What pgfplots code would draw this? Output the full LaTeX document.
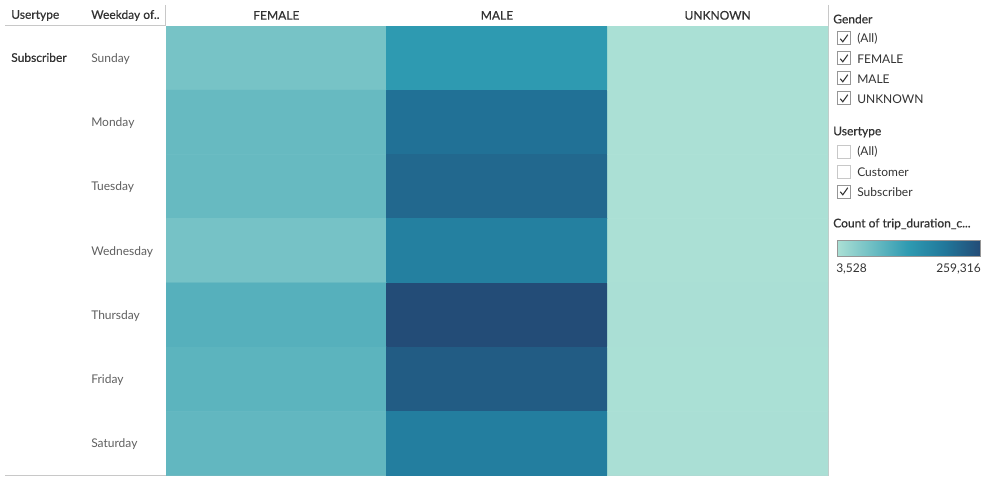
\documentclass[border=0pt]{standalone}
\usepackage{fontspec}
\setmainfont{Lato}
\newfontfamily\medfont[FakeBold=0.6]{Lato}
\usepackage{pgfplots}
\pgfplotsset{compat=1.18}
\usepackage{pgfplotstable}

\pgfplotstableread{
x y c
0 0 56500
1 0 131400
2 0 4200
0 1 73000
1 1 205000
2 1 3800
0 2 73500
1 2 218000
2 2 3528
0 3 58000
1 3 180000
2 3 3700
0 4 91000
1 4 259316
2 4 4500
0 5 84000
1 5 236000
2 5 4300
0 6 78500
1 6 184000
2 6 4900
}\heat

\definecolor{txt}{RGB}{51,51,51}
\definecolor{lbl}{RGB}{95,95,95}
\definecolor{rulec}{RGB}{200,200,200}
\definecolor{boxc}{RGB}{150,150,150}
\definecolor{boxu}{RGB}{200,200,200}

\pgfdeclarehorizontalshading{btshade}{100bp}{rgb(0bp)=(0.671,0.878,0.835); rgb(25bp)=(0.671,0.878,0.835); rgb(50bp)=(0.180,0.604,0.694); rgb(62.5bp)=(0.129,0.471,0.608); rgb(75bp)=(0.137,0.298,0.467); rgb(100bp)=(0.137,0.298,0.467)}

\begin{document}
\begin{tikzpicture}[font=\fontsize{9}{11}\selectfont]
\begin{scope}[x=0.75pt,y=-0.75pt]
\path[use as bounding box] (0,0) rectangle (993,485);
% frame lines
\draw[rulec, line width=0.75pt] (5,25.5)--(166,25.5);
\draw[rulec, line width=0.75pt] (165.8,5)--(165.8,25.5);
\draw[rulec, line width=0.75pt] (828.6,5)--(828.6,475.5);
\draw[rulec, line width=0.75pt] (5,475.6)--(828.6,475.6);
% row headers
\node[anchor=west, inner sep=0pt, text=txt] at (11,15.5) {\medfont Usertype};
\node[anchor=west, inner sep=0pt, text=txt] at (91,15.5) {\medfont Weekday of..};
\node[anchor=west, inner sep=0pt, text=txt] at (11,57.5) {\medfont Subscriber};
% legend: Gender
\node[anchor=west, inner sep=0pt, text=txt] at (833,19) {\medfont Gender};
\foreach \yy/\tt in {38.5/(All),58.5/FEMALE,78.5/MALE,98.5/UNKNOWN}{
  \draw[boxc, line width=0.75pt] (837.5,\yy-6.5) rectangle (850.5,\yy+6.5);
  \draw[txt, line width=0.8pt] (840.3,\yy+0.3) -- (842.8,\yy+3.3) -- (847.8,\yy-3.8);
  \node[anchor=west, inner sep=0pt, text=txt] at (857,\yy+0.5) {\tt};
}
% legend: Usertype
\node[anchor=west, inner sep=0pt, text=txt] at (833,132) {\medfont Usertype};
\foreach \yy/\tt in {151.5/(All),171.5/Customer}{
  \draw[boxu, line width=0.75pt] (837.5,\yy-6.5) rectangle (850.5,\yy+6.5);
  \node[anchor=west, inner sep=0pt, text=txt] at (857,\yy+0.5) {\tt};
}
\draw[boxc, line width=0.75pt] (837.5,191.5-6.5) rectangle (850.5,191.5+6.5);
\draw[txt, line width=0.8pt] (840.3,191.8) -- (842.8,194.8) -- (847.8,187.7);
\node[anchor=west, inner sep=0pt, text=txt] at (857,192) {Subscriber};
% legend: colour
\node[anchor=west, inner sep=0pt, text=txt] at (833,224) {\medfont Count of trip\_duration\_c...};
\shade[shading=btshade] (837,240) rectangle (980,256);
\draw[boxc, line width=0.75pt] (837,240) rectangle (980,256);
\node[anchor=west, inner sep=0pt, text=txt] at (836,269) {3,528};
\node[anchor=east, inner sep=0pt, text=txt] at (981,269) {259,316};
\end{scope}
\begin{axis}[
  at={(124.5pt,-356.7pt)}, anchor=south west,
  scale only axis, width=496.5pt, height=337.2pt,
  xmin=-0.5, xmax=2.5, ymin=-0.5, ymax=6.5, y dir=reverse,
  enlargelimits=false,
  axis line style={draw=none}, tick style={draw=none},
  xtick={0,1,2}, xticklabels={FEMALE,MALE,UNKNOWN},
  xticklabel pos=right,
  xticklabel style={anchor=center, yshift=8pt, inner sep=0pt, text=txt, font=\medfont\fontsize{9}{11}\selectfont},
  ytick={0,1,2,3,4,5,6},
  yticklabels={Sunday,Monday,Tuesday,Wednesday,Thursday,Friday,Saturday},
  yticklabel style={anchor=west, xshift=-56.25pt, yshift=-0.6pt, inner sep=0pt, text=lbl, font=\fontsize{9}{11}\selectfont},
  colormap={bt}{rgb255(0cm)=(171,224,213); rgb255(2cm)=(46,154,177); rgb255(3cm)=(33,120,155); rgb255(4cm)=(35,76,119)},
  point meta min=3528, point meta max=259316,
]
\addplot[matrix plot*, mesh/cols=3, point meta=explicit] table[x=x, y=y, meta=c] {\heat};
\end{axis}
\end{tikzpicture}
\end{document}
